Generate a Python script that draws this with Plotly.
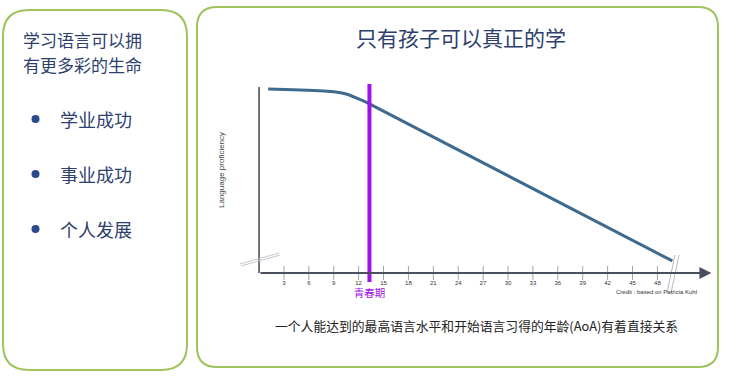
import plotly.graph_objects as go

W, H = 730, 380

# ---- data ----
age = [1.1, 5, 9, 10.5, 12, 13.3, 49.8]
proficiency = [99.0, 98.4, 97.5, 96.3, 93.6, 91.0, 6.5]
tick_values = [3, 6, 9, 12, 15, 18, 21, 24, 27, 30, 33, 36, 39, 42, 45, 48]
tick_labels = [str(v) for v in tick_values]
puberty_age = 13.3
puberty_label = "青春期"
title_text = "只有孩子可以真正的学"
caption_text = "一个人能达到的最高语言水平和开始语言习得的年龄(AoA)有着直接关系"
left_title = ["学习语言可以拥", "有更多彩的生命"]
bullets = ["学业成功", "事业成功", "个人发展"]
y_label = "Language proficiency"
credit = "Credit : based on Patricia Kuhl"

CJK = "Noto Sans CJK SC"
GREEN = "#9dc35a"
NAVY = "#2e3f6e"
PURPLE = "#a010e8"


def px(x):
    return x / W


def py(y):
    return 1 - y / H


def rounded(x0, y0, x1, y1, r):
    rx, ry = r / W, r / H
    X0, X1 = px(x0), px(x1)
    Y0, Y1 = py(y1), py(y0)  # Y0 bottom, Y1 top
    return (f"M {X0+rx},{Y1} L {X1-rx},{Y1} Q {X1},{Y1} {X1},{Y1-ry} "
            f"L {X1},{Y0+ry} Q {X1},{Y0} {X1-rx},{Y0} "
            f"L {X0+rx},{Y0} Q {X0},{Y0} {X0},{Y0+ry} "
            f"L {X0},{Y1-ry} Q {X0},{Y1} {X0+rx},{Y1} Z")


def note(x, y, text, font, **kw):
    d = dict(x=px(x), y=py(y), xref="paper", yref="paper", text=text, showarrow=False,
             xanchor="center", yanchor="middle", font=font)
    d.update(kw)
    return d


fig = go.Figure()

# y axis line
fig.add_trace(go.Scatter(x=[0, 0], y=[0, 100], mode="lines",
                         line=dict(color="#6b6e78", width=2), hoverinfo="skip"))
# tick marks
fig.add_trace(go.Scatter(x=tick_values, y=[0] * len(tick_values), mode="markers",
                         marker=dict(symbol="line-ns", size=10,
                                     line=dict(color="#9aa3b5", width=1)),
                         hoverinfo="skip"))
# tick labels
fig.add_trace(go.Scatter(x=tick_values, y=[-5.4] * len(tick_values), mode="text",
                         text=tick_labels,
                         textfont=dict(size=6, color="#333", family="Liberation Sans"),
                         hoverinfo="skip"))
# proficiency curve
fig.add_trace(go.Scatter(x=age, y=proficiency, mode="lines",
                         line=dict(color="#3e6a8e", width=3, shape="spline", smoothing=0.4),
                         hoverinfo="skip"))
# puberty line
fig.add_trace(go.Scatter(x=[puberty_age, puberty_age], y=[101.6, -4.8], mode="lines",
                         line=dict(color=PURPLE, width=4), hoverinfo="skip"))
fig.add_trace(go.Scatter(x=[puberty_age], y=[-11.6], mode="text", text=[puberty_label],
                         textfont=dict(size=10.5, color=PURPLE, family=CJK),
                         hoverinfo="skip"))

annotations = []
# x axis with arrow
annotations.append(dict(x=54.5, y=0, ax=0, ay=0, xref="x", yref="y", axref="x", ayref="y",
                        text="", showarrow=True, arrowhead=2, arrowsize=1.2,
                        arrowwidth=2, arrowcolor="#4a4f5e"))
annotations.append(note(221, 170, y_label,
                        dict(size=8, color="#444", family="Liberation Sans"), textangle=-90))
annotations.append(note(656, 292, credit,
                        dict(size=6, color="#333", family="Liberation Sans")))
annotations.append(note(461, 37, title_text, dict(size=21, color=NAVY, family=CJK)))
annotations.append(note(476, 325, caption_text, dict(size=12.8, color="#222", family=CJK)))
for i, t in enumerate(left_title):
    annotations.append(note(21, 39.5 + 25 * i, t, dict(size=17, color=NAVY, family=CJK),
                            xanchor="left"))

shapes = [
    dict(type="path", xref="paper", yref="paper", path=rounded(3, 10, 187, 370, 26),
         line=dict(color=GREEN, width=2), fillcolor="rgba(0,0,0,0)", layer="below"),
    dict(type="path", xref="paper", yref="paper", path=rounded(197, 7, 718, 367, 20),
         line=dict(color=GREEN, width=2), fillcolor="rgba(0,0,0,0)", layer="below"),
]
for i, t in enumerate(bullets):
    yy = 119 + 55 * i
    shapes.append(dict(type="circle", xref="paper", yref="paper",
                       x0=px(31.5), x1=px(39.5), y0=py(yy + 4), y1=py(yy - 4),
                       fillcolor="#2b4a8b", line=dict(width=0)))
    annotations.append(note(58, yy, t, dict(size=18, color=NAVY, family=CJK),
                            xanchor="left"))
# axis break marks
for dx, dy in [(0, 0), (1, 2)]:
    shapes.append(dict(type="line", xref="paper", yref="paper",
                       x0=px(240 + dx), y0=py(264 + dy), x1=px(279 + dx), y1=py(253 + dy),
                       line=dict(color="#c4c6cc", width=1)))
for dx in [0, 4]:
    shapes.append(dict(type="line", xref="paper", yref="paper",
                       x0=px(667 + dx), y0=py(293), x1=px(675 + dx), y1=py(255),
                       line=dict(color="#b8bac0", width=1)))

fig.update_layout(
    width=W, height=H, margin=dict(l=0, r=0, t=0, b=0),
    paper_bgcolor="white", plot_bgcolor="rgba(0,0,0,0)", showlegend=False,
    xaxis=dict(range=[-3.5, 54.94], domain=[px(230), px(715)], visible=False),
    yaxis=dict(range=[-14.5, 103.8], domain=[py(300), py(80)], visible=False),
    annotations=annotations, shapes=shapes,
)

fig.write_html("out.html", config={"displayModeBar": False},
               post_script="document.body.style.margin='0';")
